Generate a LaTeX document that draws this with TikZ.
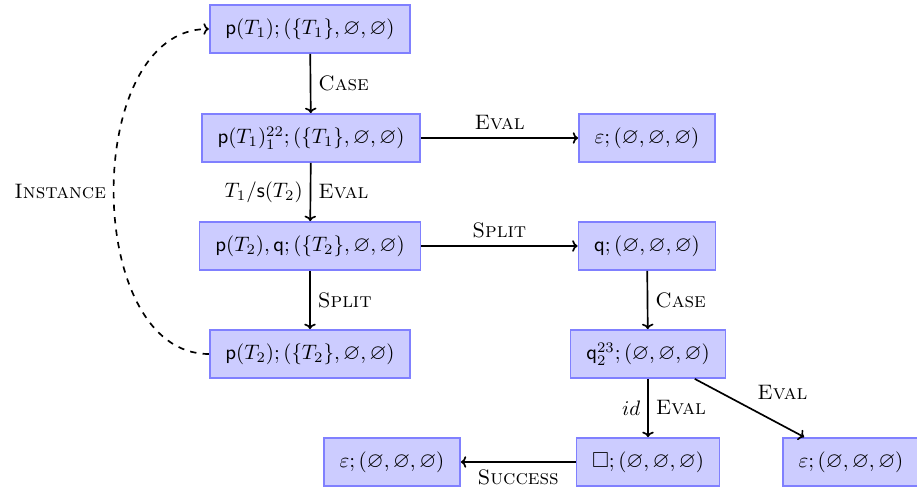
\documentclass[tikz,border=0pt]{standalone}
\usepackage{amsmath,amssymb}
\usetikzlibrary{arrows.meta}
\begin{document}
\begin{tikzpicture}[x=0.478pt,y=-0.478pt,
  state/.style={draw=blue!50,fill=blue!20,thick,minimum height=23pt,inner xsep=7.5pt,inner ysep=4pt,font=\fontsize{10.4}{12.5}\selectfont},
  edge/.style={-{To[width=5.5pt,length=2.6pt]},thick}]
\useasboundingbox (0,0) rectangle (917,488);
\node[state] (n1) at (310,29) {$\mathsf{p}(T_1); (\{T_1\}, \varnothing, \varnothing)$};
\node[state] (n2) at (311,138) {$\mathsf{p}(T_1)^{22}_1; (\{T_1\}, \varnothing, \varnothing)$};
\node[state] (n3) at (647,138) {$\varepsilon; (\varnothing, \varnothing, \varnothing)$};
\node[state] (n4) at (310,246) {$\mathsf{p}(T_2), \mathsf{q}; (\{T_2\}, \varnothing, \varnothing)$};
\node[state] (n5) at (647,246) {$\mathsf{q}; (\varnothing, \varnothing, \varnothing)$};
\node[state] (n6) at (310,354) {$\mathsf{p}(T_2); (\{T_2\}, \varnothing, \varnothing)$};
\node[state] (n7) at (648,354) {$\mathsf{q}^{23}_2; (\varnothing, \varnothing, \varnothing)$};
\node[state] (n8) at (648,462) {$\square; (\varnothing, \varnothing, \varnothing)$};
\node[state] (n9) at (392,462) {$\varepsilon; (\varnothing, \varnothing, \varnothing)$};
\node[state] (n10) at (851,462) {$\varepsilon; (\varnothing, \varnothing, \varnothing)$};
\draw[edge] (n1) -- node[right] {\textsc{Case}} (n2);
\draw[edge] (n2) -- node[above] {\textsc{Eval}} (n3);
\draw[edge] (n2) -- node[left] {$T_1/\mathsf{s}(T_2)$} node[right] {\textsc{Eval}} (n4);
\draw[edge] (n4) -- node[above] {\textsc{Split}} (n5);
\draw[edge] (n4) -- node[right] {\textsc{Split}} (n6);
\draw[edge] (n5) -- node[right] {\textsc{Case}} (n7);
\draw[edge] (n7) -- node[left] {$id$} node[right] {\textsc{Eval}} (n8);
\draw[edge] (n7) -- node[above right] {\textsc{Eval}} (n10);
\draw[edge] (n8) -- node[below] {\textsc{Success}} (n9);
\draw[edge,dashed] (n6.west) to[out=180,in=180] node[left] {\textsc{Instance}} (n1.west);
\end{tikzpicture}
\end{document}
